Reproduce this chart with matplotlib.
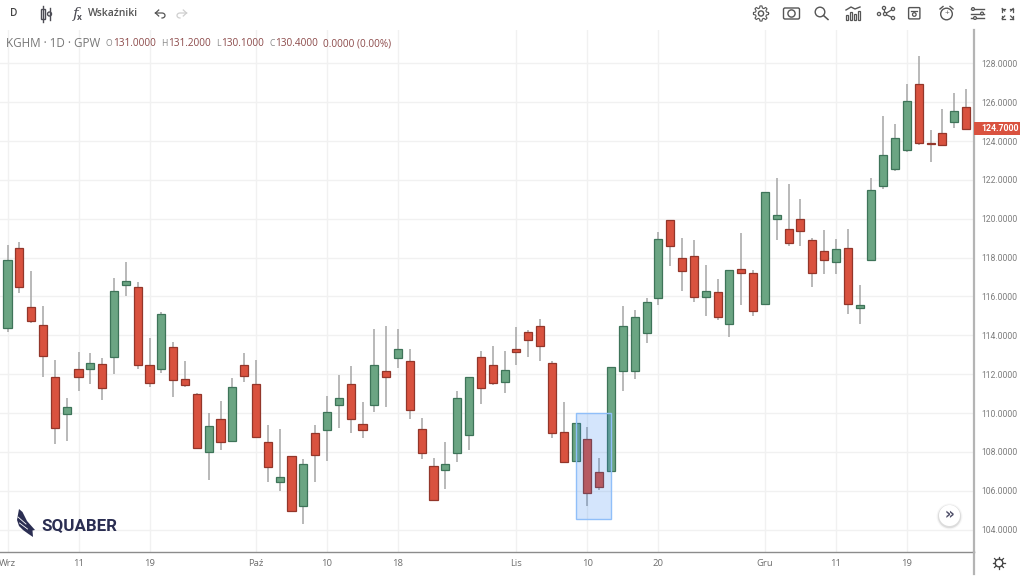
import numpy as np
import matplotlib
matplotlib.use("Agg")
import matplotlib.pyplot as plt
from matplotlib.patches import Rectangle, Circle, Polygon, FancyBboxPatch

plt.rcParams['font.family'] = ['Open Sans', 'DejaVu Sans']

# price data, one entry per daily candle
opens = [114.39,118.48,115.47,114.53,111.85,109.95,112.27,112.28,112.51,112.87,116.57,116.47,112.47,112.27,113.38,111.77,110.98,107.98,109.71,108.56,112.47,
         111.47,108.51,106.45,107.77,105.23,108.95,109.12,110.43,111.47,109.42,110.43,112.18,112.83,112.68,109.16,107.27,107.07,107.96,108.88,112.86,112.47,111.61,
         113.29,114.15,114.48,112.59,109.0,107.51,108.68,106.95,107.03,112.18,112.18,114.10,115.92,119.92,117.98,118.07,115.96,116.21,114.57,117.41,117.19,115.63,
         119.99,119.46,119.97,118.89,118.36,117.78,118.48,115.42,117.86,121.68,122.54,123.53,126.96,123.91,124.41,124.99,125.73]
closes = [117.86,116.47,114.74,112.95,109.21,110.29,111.84,112.59,111.31,116.26,116.80,112.45,111.56,115.10,111.68,111.43,108.18,109.33,108.51,111.36,111.92,
          108.75,107.24,106.70,104.97,107.36,107.85,110.03,110.77,109.67,109.12,112.47,111.83,113.29,110.15,107.92,105.54,107.36,110.77,111.83,111.30,111.56,112.21,
          113.16,113.77,113.46,108.95,107.48,109.47,105.86,106.21,112.38,114.48,114.94,115.72,118.98,118.60,117.33,115.96,116.27,114.93,117.38,117.19,115.27,121.36,
          120.18,118.77,119.39,117.19,117.89,118.44,115.63,115.56,121.47,123.26,124.17,126.06,123.91,123.86,123.77,125.56,124.63]
highs = [118.65,118.79,117.29,115.53,112.71,110.79,113.14,113.09,112.85,116.93,117.76,116.73,113.84,115.18,113.67,112.68,111.03,109.98,110.62,111.82,113.09,
         112.73,109.38,109.18,107.80,107.63,109.38,110.87,111.95,112.40,110.58,114.30,114.49,114.30,113.29,109.76,107.67,108.52,111.11,111.85,113.17,113.46,113.17,
         114.41,114.27,114.82,112.68,110.55,109.47,109.26,107.67,112.38,115.51,115.32,115.90,119.32,119.94,118.99,118.91,117.62,116.88,117.38,119.25,117.36,121.36,
         122.08,121.79,121.02,118.99,119.40,118.96,119.47,116.59,122.08,125.28,124.87,126.96,128.37,124.55,125.64,126.45,126.67]
lows = [114.19,116.19,114.63,111.85,108.39,108.58,111.13,111.51,110.69,111.99,116.04,112.28,111.36,112.04,110.81,111.36,108.17,106.55,108.08,108.56,111.58,
        108.75,106.46,105.97,104.96,104.27,106.46,107.55,109.24,108.99,108.69,110.05,110.31,112.32,109.67,107.63,105.54,106.09,107.49,108.09,110.48,111.46,111.01,
        112.49,112.90,112.69,108.73,107.46,107.51,105.23,106.02,107.03,111.15,111.75,113.61,115.58,117.57,116.30,115.70,115.00,114.81,113.90,115.58,115.00,115.63,
        118.92,118.58,118.58,116.49,117.14,117.14,115.12,114.60,117.86,121.51,122.47,123.41,123.81,122.90,123.77,124.67,124.60]

price_ticks = list(range(104, 130, 2))
date_pos = [0, 6, 12, 21, 27, 33, 43, 49, 55, 64, 70, 76]
date_labels = ['Wrz', '11', '19', 'Paź', '10', '18', 'Lis', '10', '20', 'Gru', '11', '19']
last_price = 124.7
box_start, box_end, box_high, box_low = 48, 51, 110.02, 104.54

W, H = 1024, 576
fig = plt.figure(figsize=(W/100, H/100), dpi=100, facecolor='white')
# main chart axes, pixel box x 0..973.5, y 29.5..552.3
ax = fig.add_axes([0, 1-552.3/H, 973.5/W, (552.3-29.5)/H])
ax.set_xlim(-0.634, 81.63)
ax.set_ylim(102.83, 129.74)
ax.set_facecolor('white')
ax.set_axisbelow(True)
ax.grid(True, color='#f1f1f1', lw=1.0)
for s in ('top', 'left'):
    ax.spines[s].set_visible(False)
ax.spines['right'].set_color('#b4b4b4'); ax.spines['right'].set_linewidth(1.6)
ax.spines['bottom'].set_color('#8c8c8c'); ax.spines['bottom'].set_linewidth(1.0)
ax.yaxis.tick_right()
ax.set_yticks(price_ticks)
ax.set_yticklabels([f'{v:.4f}' for v in price_ticks], color='#7d7d7d', fontsize=6.2, family='Roboto')
ax.set_xticks(date_pos)
ax.set_xticklabels(date_labels, color='#6e6e6e', fontsize=6.8)
ax.tick_params(axis='both', length=0)
ax.tick_params(axis='y', pad=5.8)
ax.tick_params(axis='x', pad=5)

x = np.arange(len(opens))
o, c = np.array(opens), np.array(closes)
up = c >= o
ax.vlines(x, lows, highs, color='#a6a6a6', lw=1.1, zorder=2)
ax.bar(x, np.abs(c-o), bottom=np.minimum(o, c), width=0.68,
       color=np.where(up, '#6ba583', '#d9523f'),
       edgecolor=np.where(up, '#3e7459', '#93362a'), lw=0.9, zorder=3)
ax.add_patch(Rectangle((box_start, box_low), box_end-box_start, box_high-box_low,
                       facecolor='#2a7ff0', alpha=0.2, zorder=4, lw=0))
ax.add_patch(Rectangle((box_start, box_low), box_end-box_start, box_high-box_low,
                       fill=False, edgecolor='#90bff9', lw=1.0, zorder=5))

# overlay in pixel coordinates for the interface furniture
ov = fig.add_axes([0, 0, 1, 1], facecolor='none')
ov.set_xlim(0, W); ov.set_ylim(H, 0); ov.axis('off')

ov.plot([973.9, 973.9], [552, 574], color='#b4b4b4', lw=1.6)
ov.add_patch(Rectangle((974, 122), 46, 13, facecolor='#d9523f', lw=0))
ov.text(1000, 128.5, f'{last_price:.4f}', color='white', fontsize=6.3, fontweight='bold', ha='center', va='center', family='Roboto')

# legend line
ov.text(6, 43.5, 'KGHM · 1D · GPW', color='#777777', fontsize=8.4, va='center')
letters = ['O', 'H', 'L', 'C']
letter_x = [105.8, 161, 216, 269]
numbers = ['131.0000', '131.2000', '130.1000', '130.4000', '0.0000 (0.00%)']
number_x = [113, 168, 221.5, 275.5, 322.7]
for xp, v in zip(letter_x, letters):
    ov.text(xp, 44, v, color='#8a8a8a', fontsize=6.2, va='center')
for xp, v in zip(number_x, numbers):
    ov.text(xp, 44, v, color='#8c4a4a', fontsize=7.2, va='center')

# left toolbar
ic = '#4d4d55'
ov.text(14, 14, 'D', color='#444444', fontsize=7.2, ha='center', va='center', fontweight='semibold')
ov.add_patch(Rectangle((41, 9), 3.5, 10, fill=False, edgecolor=ic, lw=1))
ov.plot([42.7, 42.7], [6, 22], color=ic, lw=1, zorder=1)
ov.add_patch(Circle((49.5, 14), 2, fill=False, edgecolor=ic, lw=1))
ov.plot([49.5, 49.5], [8, 20], color=ic, lw=1)
ov.text(75.5, 14, 'f', color=ic, fontsize=11, ha='center', va='center', style='italic', family='DejaVu Serif')
ov.text(79.5, 18, 'x', color=ic, fontsize=6, ha='center', va='center', fontweight='bold')
ov.text(88, 14, 'Wskaźniki', color='#555555', fontsize=7.5, va='center', fontweight='semibold')
t = np.linspace(-np.pi/2, np.pi/2, 15)
for xa, col, sgn in ((155.5, '#555555', 1), (186.5, '#cfcfcf', -1)):
    ov.plot([xa, xa+sgn*3.2], [13, 10], color=col, lw=0.9)
    ov.plot([xa, xa+sgn*3.2], [13, 16], color=col, lw=0.9)
    ov.plot(np.r_[xa, xa+sgn*(6.5+3*np.cos(t))], np.r_[13, 15.5+2.5*np.sin(t)], color=col, lw=0.9)

# right toolbar icons
ic = '#555555'
# gear
ov.add_patch(Circle((761, 13.5), 2.6, fill=False, edgecolor=ic, lw=1))
ang = np.linspace(0, 2*np.pi, 49)
r = 6.6+1.0*np.sign(np.cos(8*ang))
ov.plot(761+r*np.cos(ang), 13.5+r*np.sin(ang), color=ic, lw=0.8)
# camera
ov.add_patch(FancyBboxPatch((784, 8.5), 15, 10, boxstyle='round,pad=0.5,rounding_size=1.5', fill=False, edgecolor=ic, lw=1))
ov.add_patch(Circle((791.5, 13.5), 3.6, fill=False, edgecolor=ic, lw=1))
# search
ov.add_patch(Circle((820, 12), 4.8, fill=False, edgecolor=ic, lw=1))
ov.plot([823.5, 828], [15.5, 19.5], color=ic, lw=1.1)
# indicators chart
for bx, bh in zip((847, 851, 855, 859), (5, 8, 6, 9)):
    ov.add_patch(Rectangle((bx-1, 19.5-bh), 2, bh, fill=False, edgecolor=ic, lw=0.9))
ov.plot([846, 851, 855, 860], [10, 7, 9, 7], color=ic, lw=1)
# nodes
nodes = [(879, 14), (885, 14), (893, 9), (893, 18), (884, 8)]
for a in nodes[1:]:
    ov.plot([885, a[0]], [14, a[1]], color=ic, lw=0.9)
for n in nodes:
    ov.add_patch(Circle(n, 1.6, facecolor='white', edgecolor=ic, lw=0.9, zorder=3))
# save
ov.add_patch(FancyBboxPatch((909, 8), 10.5, 10.5, boxstyle='round,pad=0.4,rounding_size=1', fill=False, edgecolor=ic, lw=1))
ov.add_patch(Circle((914.3, 14.5), 1.8, fill=False, edgecolor=ic, lw=0.9))
ov.plot([911, 917], [10.5, 10.5], color=ic, lw=0.9)
# alarm
ov.add_patch(Circle((946.5, 14), 5.8, fill=False, edgecolor=ic, lw=1))
ov.plot([940, 943], [9, 6.5], color=ic, lw=1); ov.plot([953, 950], [9, 6.5], color=ic, lw=1)
ov.text(946.5, 14, '+', color=ic, fontsize=6, ha='center', va='center')
# sliders
for yy, kx in zip((9, 13.5, 18), (973, 982, 975)):
    ov.plot([971, 984], [yy, yy], color=ic, lw=1)
    ov.add_patch(Circle((kx, yy), 1.4, facecolor='white', edgecolor=ic, lw=0.9, zorder=3))
# fullscreen
for sx, sy in ((-1, -1), (1, -1), (-1, 1), (1, 1)):
    cx, cy = 1007.7+sx*5.5, 13.5+sy*5
    ov.plot([cx, cx-sx*3], [cy, cy], color=ic, lw=0.9)
    ov.plot([cx, cx], [cy, cy-sy*3], color=ic, lw=0.9)
    ov.plot([cx, cx-sx*2.5], [cy, cy-sy*2.5], color=ic, lw=0.9)

# scroll button
for rad, al in ((13, 0.03), (12, 0.05), (11.5, 0.06)):
    ov.add_patch(Circle((949.5, 516.5), rad, facecolor='black', alpha=al, lw=0))
ov.add_patch(Circle((949.5, 515.5), 10.5, facecolor='white', lw=0))
ov.text(949.5, 515, '»', color='#50506a', fontsize=11, ha='center', va='center', fontweight='bold', family='DejaVu Sans')

# settings sun
ov.add_patch(Circle((999, 563), 3.8, fill=False, edgecolor='#444444', lw=1))
for a in np.arange(0, 2*np.pi, np.pi/4):
    ov.plot([999+4.2*np.cos(a), 999+6.3*np.cos(a)], [563+4.2*np.sin(a), 563+6.3*np.sin(a)], color='#444444', lw=0.9)

# logo
navy = '#2b2e52'
ov.add_patch(Polygon([(19, 509), (22.5, 512), (27, 521), (35, 530), (32.5, 530.5), (33, 537), (28.5, 534),
                      (23, 530), (19, 526), (17, 520)], closed=True, facecolor=navy, lw=0))
ov.plot([18, 26], [517, 524], color='white', lw=0.6)
ov.plot([19.5, 27.5], [523, 529], color='white', lw=0.6)
ov.text(41, 525.5, 'SQUABER', color=navy, fontsize=12.2, va='center', fontweight='bold', family='Roboto')

fig.savefig('out.png', dpi=100, facecolor='white')
